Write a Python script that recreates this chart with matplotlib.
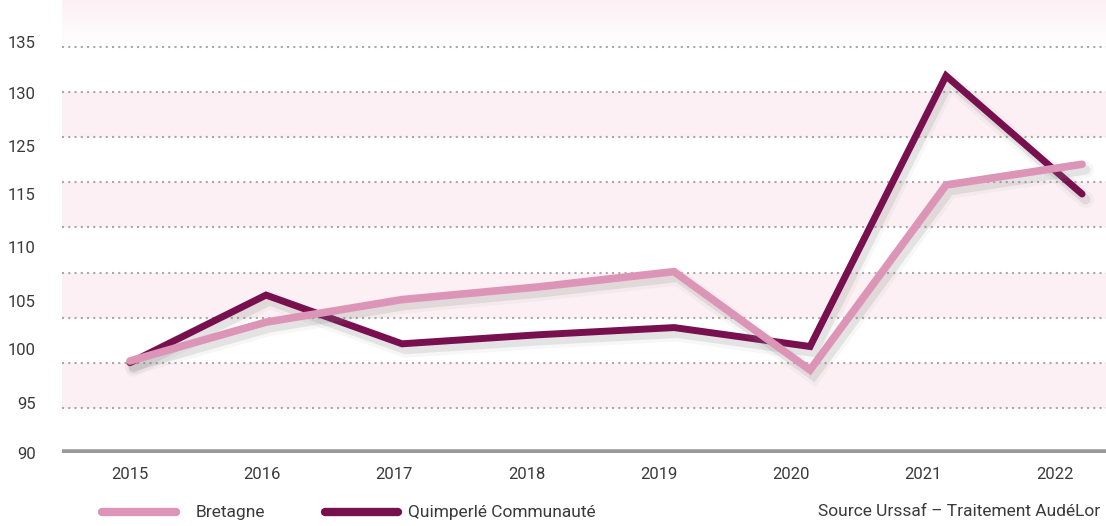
import matplotlib.pyplot as plt
import matplotlib.patheffects as pe
import numpy as np

years = ["2015", "2016", "2017", "2018", "2019", "2020", "2021", "2022"]
bretagne = [100.2, 104.5, 107.0, 108.4, 110.1, 99.2, 119.7, 122.0]
quimperle = [100.0, 107.5, 102.1, 103.1, 103.9, 101.8, 131.8, 118.7]

# y labels as printed on the original (no 120, drawn slightly off the grid)
ytick_labels = ["90", "95", "100", "105", "110", "115", "125", "130", "135"]
ytick_pos = [90.0, 95.5, 101.5, 106.8, 112.8, 118.7, 124.0, 129.9, 135.5]
grid_values = [95, 100, 105, 110, 115, 120, 125, 130, 135]

plt.rcParams['font.family'] = ['Roboto', 'DejaVu Sans']

c_bret = '#dc95b6'
c_quim = '#780f4f'
c_band = '#fcf0f4'
c_text = '#3a3a3a'

fig = plt.figure(figsize=(11.06, 5.26), dpi=100)
ax = fig.add_axes([62 / 1106, (526 - 453) / 526, 1044 / 1106, 453 / 526])

ymax = 140.2
ax.set_ylim(90, ymax)
ax.set_xlim(-0.5, 7.176)

# bands
for lo in [95, 105, 115, 125]:
    ax.axhspan(lo, lo + 5, color=c_band, lw=0, zorder=0)
grad = np.linspace(1, 0, 64).reshape(-1, 1)
ax.imshow(grad, extent=(-0.5, 7.176, 135, ymax), aspect='auto',
          cmap=plt.matplotlib.colors.LinearSegmentedColormap.from_list('g', ['#ffffff', c_band]),
          zorder=0, origin='upper')

for g in grid_values:
    ax.axhline(g, color='#a8a8a8', lw=1.5, ls=(0, (1, 2)), zorder=1)
ax.axhline(90.1, color='#999999', lw=4, zorder=1, xmin=2 / 1044)

x = np.arange(len(years))
shadow = [pe.SimpleLineShadow(offset=(2.5, -4), shadow_color='#999999', alpha=0.08, linewidth=12),
          pe.SimpleLineShadow(offset=(2.5, -4), shadow_color='#777777', alpha=0.15, linewidth=7),
          pe.Normal()]
ax.plot(x, quimperle, color=c_quim, lw=5, solid_joinstyle='miter', solid_capstyle='round',
        path_effects=shadow, zorder=3)
ax.plot(x, bretagne, color=c_bret, lw=5.5, solid_joinstyle='miter', solid_capstyle='round',
        path_effects=shadow, zorder=4)

for s in ax.spines.values():
    s.set_visible(False)
ax.set_yticks(ytick_pos)
ax.set_yticklabels(ytick_labels, fontsize=12, color=c_text)
ax.set_xticks(x * 0.972)
ax.set_xticklabels(years, fontsize=12, color=c_text)
ax.tick_params(axis='y', length=0, pad=19)
ax.tick_params(axis='x', length=0, pad=10)

# legend and source
fig.lines.append(plt.Line2D([102 / 1106, 176 / 1106], [14 / 526, 14 / 526], color=c_bret,
                            lw=6, solid_capstyle='round', transform=fig.transFigure))
fig.lines.append(plt.Line2D([325 / 1106, 398 / 1106], [14 / 526, 14 / 526], color=c_quim,
                            lw=6, solid_capstyle='round', transform=fig.transFigure))
fig.text(196 / 1106, 14 / 526, "Bretagne", fontsize=12.5, color=c_text, va='center')
fig.text(408 / 1106, 14 / 526, "Quimperlé Communauté", fontsize=12.5, color=c_text, va='center')
fig.text(1100 / 1106, 14 / 526, "Source Urssaf – Traitement AudéLor", fontsize=12.5,
         color=c_text, va='center', ha='right')

fig.savefig('out.png', dpi=100)
